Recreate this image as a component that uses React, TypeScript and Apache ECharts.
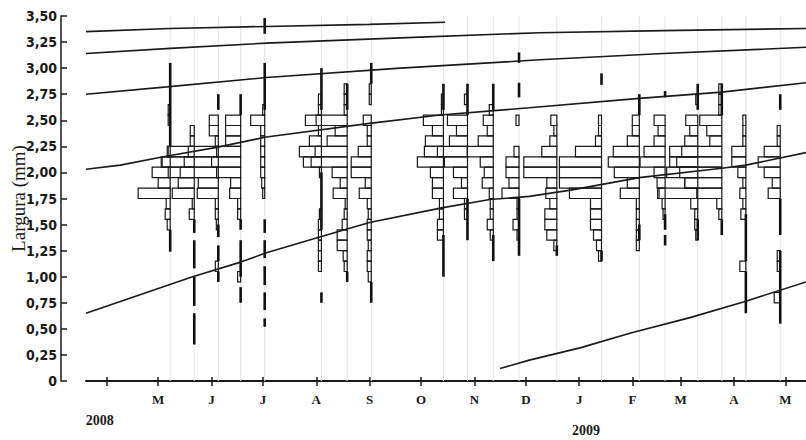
import React, { useEffect, useRef } from 'react';
import * as echarts from 'echarts';

// x values are days counted from 1 April 2008
const MONTH_DAYS = [0, 30, 61, 91, 122, 153, 183, 214, 244, 275, 306, 334, 365, 395];
const MONTH_LETTERS = ['A', 'M', 'J', 'J', 'A', 'S', 'O', 'N', 'D', 'J', 'F', 'M', 'A', 'M'];
const YEAR_LABELS = ['2008', '2009'];
const YEAR_DAYS = [-4, 279];
const Y_TICKS = [0, 0.25, 0.5, 0.75, 1, 1.25, 1.5, 1.75, 2, 2.25, 2.5, 2.75, 3, 3.25, 3.5];
const Y_TITLE = 'Largura (mm)';

// length classes (mm, class centres, 0.1 mm wide)
const BIN_CENTERS = [0.8, 0.9, 1.0, 1.1, 1.2, 1.3, 1.4, 1.5, 1.6, 1.7, 1.8, 1.9, 2.0, 2.1, 2.2, 2.3, 2.4, 2.5, 2.6, 2.7, 2.8];

// sampling dates (days since 1 Apr 2008)
const SAMPLE_DAYS = [37, 51, 65, 78, 92, 125, 140, 154, 196, 210, 225, 240, 262, 288, 310, 325, 344, 358, 372, 392];

// restructured frequencies per sample, one value per class in BIN_CENTERS
const FREQ_S01 = [0, 0, 0, 0, 0, 0, 0, 3, 5, 4, 32, 12, 18, 8, 2, 0, 0, 2, 2, 0, 0];
const FREQ_S02 = [0, 0, 0, 0, 0, 0, 0, 0, 5, 2, 22, 16, 14, 10, 6, 4, 4, 0, 0, 0, 0];
const FREQ_S03 = [0, 0, 0, 3, 0, 0, 0, 2, 3, 3, 21, 20, 50, 57, 51, 3, 9, 9, 0, 0, 0];
const FREQ_S04 = [0, 0, 3, 0, 0, 0, 0, 0, 3, 3, 11, 10, 24, 29, 24, 15, 15, 15, 0, 0, 0];
const FREQ_S05 = [0, 0, 0, 0, 0, 0, 0, 0, 0, 0, 2, 3, 4, 4, 4, 4, 4, 14, 2, 0, 0];
const FREQ_S06 = [0, 0, 0, 3, 3, 3, 3, 3, 2, 0, 0, 0, 2, 18, 22, 12, 3, 16, 3, 3, 0];
const FREQ_S07 = [0, 0, 0, 3, 4, 10, 10, 5, 3, 2, 14, 7, 15, 36, 32, 20, 12, 31, 3, 3, 3];
const FREQ_S08 = [0, 0, 3, 4, 4, 3, 4, 4, 3, 4, 12, 6, 20, 20, 13, 4, 4, 8, 0, 2, 2];
const FREQ_S09 = [0, 0, 0, 0, 0, 0, 6, 6, 4, 4, 11, 11, 13, 26, 19, 18, 11, 20, 2, 2, 0];
const FREQ_S10 = [0, 0, 0, 0, 0, 0, 0, 0, 3, 3, 14, 6, 14, 23, 30, 18, 11, 20, 0, 3, 0];
const FREQ_S11 = [0, 0, 0, 0, 0, 0, 3, 6, 3, 3, 4, 11, 9, 13, 26, 15, 6, 10, 4, 0, 0];
const FREQ_S12 = [0, 0, 0, 0, 0, 0, 2, 6, 2, 2, 17, 10, 13, 13, 5, 0, 0, 3, 0, 0, 0];
const FREQ_S13 = [0, 0, 0, 0, 0, 3, 10, 12, 12, 7, 11, 10, 33, 33, 15, 7, 3, 6, 0, 0, 0];
const FREQ_S14 = [0, 0, 0, 0, 3, 5, 8, 11, 11, 11, 32, 42, 42, 42, 26, 6, 3, 3, 0, 0, 0];
const FREQ_S15 = [0, 0, 0, 0, 0, 3, 3, 3, 3, 3, 19, 12, 25, 31, 26, 12, 7, 7, 0, 0, 0];
const FREQ_S16 = [0, 0, 0, 0, 0, 0, 0, 0, 2, 3, 6, 8, 11, 25, 21, 11, 7, 11, 0, 0, 0];
const FREQ_S17 = [0, 0, 0, 0, 0, 0, 2, 3, 3, 7, 40, 13, 18, 28, 28, 13, 8, 12, 0, 2, 0];
const FREQ_S18 = [0, 0, 0, 0, 0, 0, 0, 0, 3, 5, 25, 37, 55, 45, 40, 12, 15, 22, 3, 3, 3];
const FREQ_S19 = [0, 0, 0, 6, 0, 0, 0, 0, 5, 3, 6, 3, 8, 14, 14, 3, 3, 3, 0, 0, 0];
const FREQ_S20 = [6, 0, 0, 3, 3, 0, 0, 0, 0, 0, 12, 8, 16, 22, 16, 3, 3, 0, 0, 0, 0];

const FREQS = [FREQ_S01, FREQ_S02, FREQ_S03, FREQ_S04, FREQ_S05, FREQ_S06, FREQ_S07, FREQ_S08, FREQ_S09, FREQ_S10,
  FREQ_S11, FREQ_S12, FREQ_S13, FREQ_S14, FREQ_S15, FREQ_S16, FREQ_S17, FREQ_S18, FREQ_S19, FREQ_S20];

// negative (black) segments on each sample baseline: [sample index, from mm, to mm]
const NEG_SEGMENTS = [
  [0, 1.24, 1.45], [0, 2.25, 3.05],
  [1, 0.35, 0.65], [1, 0.72, 1.0], [1, 1.08, 1.35], [1, 1.42, 1.55],
  [2, 2.6, 2.75], [2, 0.95, 1.05], [2, 1.15, 1.3], [2, 1.38, 1.5],
  [3, 2.55, 2.75], [3, 0.75, 0.9], [3, 1.0, 1.35], [3, 1.45, 1.55],
  [4, 3.33, 3.48], [4, 2.6, 3.05], [4, 0.52, 0.6], [4, 0.68, 0.85], [4, 0.92, 1.1], [4, 1.18, 1.35], [4, 1.42, 1.55],
  [5, 2.6, 3.0], [5, 1.45, 2.0], [5, 0.75, 0.85],
  [6, 2.6, 2.85], [6, 0.95, 1.05],
  [7, 2.85, 3.05], [7, 0.75, 0.95],
  [8, 2.6, 2.85], [8, 1.0, 1.4],
  [9, 2.55, 2.85], [9, 1.35, 1.75],
  [10, 2.6, 2.85], [10, 1.15, 1.4],
  [11, 3.05, 3.15], [11, 2.72, 2.86], [11, 1.2, 1.75],
  [12, 1.2, 1.3],
  [13, 2.84, 2.95], [13, 1.15, 1.25],
  [14, 2.55, 2.75], [14, 1.35, 1.5],
  [15, 2.72, 2.78], [15, 1.3, 1.4], [15, 1.45, 1.6],
  [16, 2.6, 2.85], [16, 1.35, 1.55],
  [17, 2.55, 2.85], [17, 1.4, 1.55],
  [18, 0.65, 1.05], [18, 1.15, 1.6],
  [19, 2.6, 2.75], [19, 1.4, 1.75], [19, 0.55, 1.25],
];

// growth curves: [day, length mm]
const GROWTH_1 = [[-12, 3.35], [37, 3.38], [93, 3.40], [153, 3.42], [197, 3.44]];
const GROWTH_2 = [[-12, 3.14], [37, 3.19], [93, 3.24], [171, 3.29], [252, 3.34], [324, 3.36], [407, 3.38]];
const GROWTH_3 = [[-12, 2.75], [35, 2.82], [93, 2.91], [171, 3.00], [252, 3.08], [324, 3.14], [407, 3.20]];
const GROWTH_4 = [[-12, 2.03], [8, 2.07], [33, 2.15], [64, 2.24], [93, 2.34], [153, 2.47], [194, 2.55], [246, 2.62], [310, 2.71], [358, 2.77], [407, 2.86]];
const GROWTH_5 = [[-12, 0.65], [50, 1.00], [78, 1.14], [93, 1.23], [124, 1.38], [153, 1.52], [195, 1.66], [223, 1.74], [246, 1.77], [270, 1.83], [310, 1.95], [358, 2.04], [372, 2.07], [407, 2.19]];
const GROWTH_6 = [[229, 0.12], [246, 0.20], [276, 0.32], [305, 0.46], [340, 0.61], [371, 0.76], [407, 0.95]];
const GROWTH = [GROWTH_1, GROWTH_2, GROWTH_3, GROWTH_4, GROWTH_5, GROWTH_6];

const X_MIN = -12;
const X_MAX = 407;
const FREQ_DAYS = 0.583; // days of x-axis per frequency unit
const BIN_HALF = 0.05;

export default function App() {
  const ref = useRef<HTMLDivElement>(null);
  useEffect(() => {
    if (!ref.current) return;
    const chart = echarts.init(ref.current, null, { renderer: 'svg' });

    const barData: number[][] = [];
    SAMPLE_DAYS.forEach((d, si) => {
      FREQS[si].forEach((f, bi) => {
        if (f > 0) barData.push([d, BIN_CENTERS[bi], f]);
      });
    });
    const guideData = SAMPLE_DAYS.map((d) => [d, 0, 3.5]);
    const segData = NEG_SEGMENTS.map(([si, a, b]) => [SAMPLE_DAYS[si], a, b]);

    const serif = "'Liberation Serif', 'Times New Roman', serif";
    const narrow = "'Liberation Sans Narrow', 'Arial Narrow', 'DejaVu Sans Condensed', 'Liberation Sans', sans-serif";

    const option: any = {
      animation: false,
      backgroundColor: '#ffffff',
      grid: { left: 86, right: 0, top: 16, bottom: 59, containLabel: false, outerBoundsMode: 'none' },
      xAxis: [
        {
          type: 'value', min: X_MIN, max: X_MAX, position: 'bottom',
          axisLine: { show: true, onZero: false, lineStyle: { color: '#1a1a1a', width: 2 } },
          axisTick: { show: true, customValues: MONTH_DAYS, length: 5, lineStyle: { color: '#1a1a1a', width: 1.5 } },
          axisLabel: {
            show: true, customValues: MONTH_DAYS.slice(1), margin: 12,
            formatter: (v: number) => MONTH_LETTERS[MONTH_DAYS.indexOf(Math.round(v))] ?? '',
            fontFamily: serif, fontWeight: 'bold', fontSize: 13, color: '#1a1a1a',
          },
          splitLine: { show: false },
        },
        {
          type: 'value', min: X_MIN, max: X_MAX, position: 'bottom',
          axisLine: { show: false, onZero: false },
          axisTick: { show: true, inside: true, customValues: MONTH_DAYS, length: 4, lineStyle: { color: '#1a1a1a', width: 1.5 } },
          axisLabel: { show: false },
          splitLine: { show: false },
        },
      ],
      yAxis: {
        type: 'value', min: 0, max: 3.5, interval: 0.25, offset: 25,
        axisLine: { show: true, onZero: false, lineStyle: { color: '#1a1a1a', width: 1.5 } },
        axisTick: { show: true, inside: true, length: 6, lineStyle: { color: '#1a1a1a', width: 1.5 } },
        axisLabel: {
          margin: 4, fontFamily: narrow, fontWeight: 'bold', fontSize: 14, color: '#1a1a1a',
          customValues: Y_TICKS,
          formatter: (v: number) => (v === 0 ? '0' : v.toFixed(2).replace('.', ',')),
        },
        splitLine: { show: false },
      },
      series: [
        {
          type: 'custom', name: 'guides', data: guideData, silent: true, z: 1,
          renderItem: (params: any, api: any) => {
            const a = api.coord([api.value(0), api.value(1)]);
            const b = api.coord([api.value(0), api.value(2)]);
            return { type: 'line', shape: { x1: a[0], y1: a[1], x2: b[0], y2: b[1] }, style: { stroke: '#e4e4e4', lineWidth: 1 } };
          },
        },
        {
          type: 'custom', name: 'frequencies', data: barData, silent: true, z: 2,
          renderItem: (params: any, api: any) => {
            const d = api.value(0), c = api.value(1), f = api.value(2);
            const p1 = api.coord([d - f * FREQ_DAYS, c + BIN_HALF]);
            const p2 = api.coord([d, c - BIN_HALF]);
            return {
              type: 'rect',
              shape: { x: p1[0], y: p1[1], width: p2[0] - p1[0], height: p2[1] - p1[1] },
              style: { fill: 'rgba(255,255,255,0)', stroke: '#1a1a1a', lineWidth: 1.2 },
            };
          },
        },
        {
          type: 'custom', name: 'negatives', data: segData, silent: true, z: 3,
          renderItem: (params: any, api: any) => {
            const a = api.coord([api.value(0), api.value(2)]);
            const b = api.coord([api.value(0), api.value(1)]);
            return { type: 'rect', shape: { x: a[0] - 1.3, y: a[1], width: 2.6, height: b[1] - a[1] }, style: { fill: '#111111' } };
          },
        },
        ...GROWTH.map((g, i) => ({
          type: 'line', name: 'growth' + (i + 1), data: g, showSymbol: false, symbol: 'none', z: 4,
          lineStyle: { color: '#1a1a1a', width: 1.6 }, silent: true,
        })),
      ],
    };
    chart.setOption(option);

    const yMid = chart.convertToPixel({ yAxisIndex: 0 }, 1.75) as number;
    const graphics: any[] = YEAR_LABELS.map((t, i) => {
      const x = chart.convertToPixel({ xAxisIndex: 0 }, YEAR_DAYS[i]) as number;
      return {
        type: 'text', x, y: i === 0 ? 420 : 430,
        style: { text: t, fontFamily: serif, fontWeight: 'bold', fontSize: 14, fill: '#1a1a1a', align: 'center', verticalAlign: 'middle' },
      };
    });
    graphics.push({
      type: 'text', x: 18, y: yMid, rotation: Math.PI / 2,
      style: { text: Y_TITLE, fontFamily: serif, fontSize: 19, fill: '#1a1a1a', align: 'center', verticalAlign: 'middle' },
    });
    chart.setOption({ graphic: graphics });

    return () => chart.dispose();
  }, []);

  return <div ref={ref} style={{ position: 'fixed', left: 0, top: 0, width: 806, height: 440, background: '#fff' }} />;
}
